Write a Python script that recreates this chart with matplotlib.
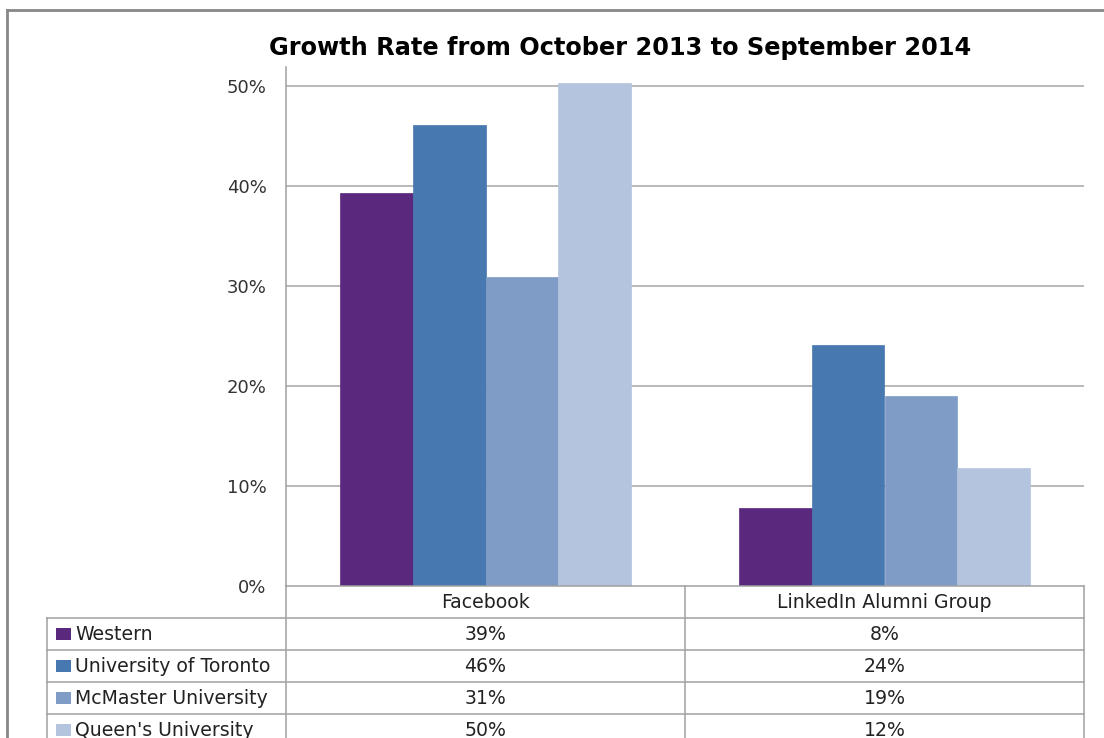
import numpy as np
import matplotlib.pyplot as plt
from matplotlib.lines import Line2D
from matplotlib.patches import Rectangle

plt.rcParams['font.family'] = ['DejaVu Sans']

# ----------------- data -----------------
title = "Growth Rate from October 2013 to September 2014"
categories = ["Facebook", "LinkedIn Alumni Group"]
schools = ["Western", "University of Toronto", "McMaster University", "Queen's University"]
western = [0.393, 0.078]
toronto = [0.461, 0.241]
mcmaster = [0.309, 0.190]
queens = [0.503, 0.118]
series = [western, toronto, mcmaster, queens]
colors = ["#5A287D", "#4878B0", "#7F9CC7", "#B4C4DE"]
yticks = [0.0, 0.1, 0.2, 0.3, 0.4, 0.5]

W, H = 1104, 738
fig = plt.figure(figsize=(W / 100, H / 100), dpi=100)
grid_c = "#A6A6A6"
line_c = "#A0A0A0"
txt_c = "#222222"

# plot area in pixels: x 286..1084, y 67..586
ax = fig.add_axes([286 / W, 1 - 586 / H, (1084 - 286) / W, (586 - 67) / H])
n = len(series)
group = 0.727
bw = group / n
x = np.arange(len(categories))
for i, (vals, c) in enumerate(zip(series, colors)):
    ax.bar(x + (i - (n - 1) / 2) * bw, vals, width=bw, color=c, zorder=3,
           edgecolor=c, linewidth=0.5, label=schools[i])
ax.set_xlim(-0.5, len(categories) - 0.5)
ax.set_ylim(0, 0.519)
ax.set_yticks(yticks)
ax.set_yticklabels([f"{int(round(t * 100))}%" for t in yticks], fontsize=13, color="#333333")
ax.tick_params(axis='y', length=0, pad=14)
ax.set_xticks([])
for t in yticks[1:]:
    ax.axhline(t, color=grid_c, linewidth=1.1, zorder=1)
for s in ["top", "right", "bottom"]:
    ax.spines[s].set_visible(False)
ax.spines["left"].set_color(line_c)
ax.spines["left"].set_linewidth(1.1)

# overlay in pixel coordinates for frame, title and data table
ov = fig.add_axes([0, 0, 1, 1], facecolor="none")
ov.set_xlim(0, W)
ov.set_ylim(H, 0)
ov.axis("off")

# outer chart frame
ov.add_line(Line2D([7, 7], [10, H], color="#888888", linewidth=2))
ov.add_line(Line2D([7, 1103], [10, 10], color="#888888", linewidth=2))

ov.text(620, 48, title, ha="center", va="center", fontsize=17.3, fontweight="bold", color="black")

# data table
col_l, col_a, col_m, col_r = 47, 286, 685, 1084
row_top = 586
row_h = 32
lw = 1.1
ov.add_line(Line2D([col_a, col_r], [row_top, row_top], color=line_c, linewidth=lw))
for k in range(1, len(schools) + 1):
    yy = row_top + k * row_h
    ov.add_line(Line2D([col_l, col_r], [yy, yy], color=line_c, linewidth=lw))
ov.add_line(Line2D([col_l, col_l], [row_top + row_h, H], color=line_c, linewidth=lw))
for xx in (col_a, col_m, col_r):
    ov.add_line(Line2D([xx, xx], [row_top, H], color=line_c, linewidth=lw))

fs = 13.6
centers = [(col_a + col_m) / 2, (col_m + col_r) / 2]
for cx, cat in zip(centers, categories):
    ov.text(cx, row_top + row_h / 2 + 1, cat, ha="center", va="center", fontsize=fs, color=txt_c)

for k, (name, vals, c) in enumerate(zip(schools, series, colors)):
    cy = row_top + (k + 1.5) * row_h
    ov.add_patch(Rectangle((56, cy - 6), 15, 12, facecolor=c, edgecolor="none"))
    ov.text(75, cy + 1, name, ha="left", va="center", fontsize=fs, color=txt_c)
    for cx, v in zip(centers, vals):
        ov.text(cx, cy + 1, f"{int(round(v * 100))}%", ha="center", va="center",
                fontsize=fs, color=txt_c)

fig.savefig("out.png", dpi=100)
